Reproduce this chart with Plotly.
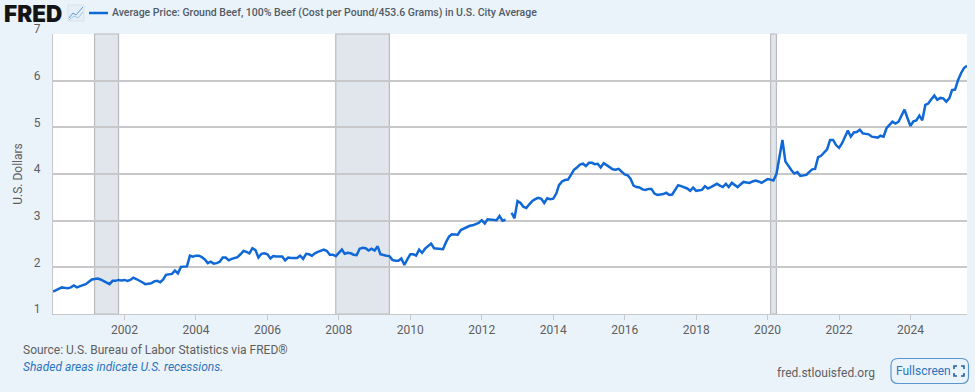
import plotly.graph_objects as go
import pandas as pd

W, H = 975, 392
L, R, T, B = 53, 8, 34, 78

y2000 = [1.48, 1.51, 1.53, 1.57, 1.56, 1.55, 1.57, 1.61, 1.57, 1.60, 1.62, 1.64]
y2001 = [1.70, 1.74, 1.75, 1.76, 1.74, 1.71, 1.68, 1.64, 1.71, 1.71, 1.73, 1.72]
y2002 = [1.73, 1.71, 1.73, 1.78, 1.75, 1.72, 1.68, 1.64, 1.65, 1.66, 1.70, 1.71]
y2003 = [1.68, 1.74, 1.84, 1.85, 1.86, 1.93, 1.87, 2.01, 2.02, 2.02, 2.25, 2.23]
y2004 = [2.25, 2.25, 2.22, 2.17, 2.09, 2.12, 2.08, 2.09, 2.12, 2.21, 2.21, 2.15]
y2005 = [2.18, 2.21, 2.22, 2.28, 2.35, 2.33, 2.30, 2.41, 2.37, 2.21, 2.29, 2.30]
y2006 = [2.28, 2.19, 2.24, 2.23, 2.23, 2.23, 2.15, 2.21, 2.20, 2.20, 2.20, 2.25]
y2007 = [2.18, 2.29, 2.28, 2.25, 2.30, 2.33, 2.36, 2.38, 2.35, 2.27, 2.27, 2.24]
y2008 = [2.31, 2.38, 2.29, 2.31, 2.30, 2.27, 2.26, 2.40, 2.42, 2.41, 2.36, 2.40]
y2009 = [2.36, 2.45, 2.28, 2.26, 2.25, 2.24, 2.16, 2.14, 2.14, 2.19, 2.05, 2.17]
y2010 = [2.28, 2.28, 2.25, 2.38, 2.31, 2.40, 2.46, 2.51, 2.41, 2.40, 2.40, 2.39]
y2011 = [2.54, 2.66, 2.71, 2.71, 2.70, 2.80, 2.83, 2.86, 2.89, 2.90, 2.92, 2.95]
y2012 = [3.01, 2.94, 3.03, 3.02, 3.01, 3.01, 3.10, 3.00, 3.02, None, 3.17, 3.05]
y2013 = [3.42, 3.38, 3.30, 3.27, 3.35, 3.42, 3.46, 3.49, 3.47, 3.38, 3.48, 3.46]
y2014 = [3.47, 3.58, 3.76, 3.84, 3.87, 3.88, 3.98, 4.09, 4.14, 4.20, 4.22, 4.17]
y2015 = [4.24, 4.24, 4.21, 4.22, 4.14, 4.23, 4.19, 4.15, 4.10, 4.09, 4.11, 4.05]
y2016 = [3.99, 3.97, 3.90, 3.75, 3.72, 3.71, 3.67, 3.66, 3.68, 3.68, 3.58, 3.55]
y2017 = [3.56, 3.57, 3.60, 3.55, 3.56, 3.66, 3.76, 3.74, 3.72, 3.69, 3.64, 3.71]
y2018 = [3.64, 3.65, 3.66, 3.74, 3.69, 3.72, 3.75, 3.79, 3.75, 3.72, 3.79, 3.72]
y2019 = [3.81, 3.76, 3.72, 3.78, 3.83, 3.82, 3.81, 3.84, 3.86, 3.84, 3.81, 3.85]
y2020 = [3.89, 3.88, 3.86, 4.00, 4.37, 4.73, 4.27, 4.16, 4.08, 4.01, 4.04, 3.96]
y2021 = [3.97, 3.98, 4.04, 4.10, 4.11, 4.36, 4.39, 4.46, 4.53, 4.73, 4.73, 4.62]
y2022 = [4.56, 4.66, 4.78, 4.93, 4.80, 4.89, 4.90, 4.95, 4.87, 4.86, 4.85, 4.80]
y2023 = [4.79, 4.78, 4.82, 4.80, 4.98, 5.06, 5.12, 5.08, 5.12, 5.25, 5.38, 5.20]
y2024 = [5.03, 5.13, 5.15, 5.25, 5.15, 5.48, 5.51, 5.60, 5.68, 5.59, 5.63, 5.62]
y2025 = [5.55, 5.62, 5.80, 5.81, 6.01, 6.16, 6.27, 6.32]

values = (y2000 + y2001 + y2002 + y2003 + y2004 + y2005 + y2006 + y2007 + y2008 + y2009
          + y2010 + y2011 + y2012 + y2013 + y2014 + y2015 + y2016 + y2017 + y2018 + y2019
          + y2020 + y2021 + y2022 + y2023 + y2024 + y2025)
dates = pd.date_range("2000-01-01", periods=len(values), freq="MS")

recession_starts = ["2001-03-01", "2007-12-01", "2020-02-01"]
recession_ends = ["2001-11-01", "2009-06-01", "2020-04-01"]
year_ticks = ["2002-01-01", "2004-01-01", "2006-01-01", "2008-01-01", "2010-01-01", "2012-01-01",
              "2014-01-01", "2016-01-01", "2018-01-01", "2020-01-01", "2022-01-01", "2024-01-01"]
year_labels = ["2002", "2004", "2006", "2008", "2010", "2012", "2014", "2016", "2018", "2020", "2022", "2024"]
y_ticks = [1, 2, 3, 4, 5, 6, 7]

TITLE = "Average Price: Ground Beef, 100% Beef (Cost per Pound/453.6 Grams) in U.S. City Average"
BLUE = "#1068d6"
GREY_TEXT = "#5e5e5e"
GRID = "#c8c8ca"
PAGE = "#ebf3fa"
FONT = "Roboto"

def px(x):
    return (x - L) / (W - L - R)

def py(y):
    return (H - B - y) / (H - T - B)

def path(cmds):
    out = []
    for c in cmds:
        if isinstance(c, str):
            out.append(c)
        else:
            out.append(f"{px(c[0]):.5f},{py(c[1]):.5f}")
    return " ".join(out)

def pshape(cmds, color, width=1.0, fill=None):
    return dict(type="path", xref="paper", yref="paper", path=path(cmds),
                line=dict(color=color, width=width), fillcolor=fill or "rgba(0,0,0,0)", layer="above")

def note(x, y, text, size, color=GREY_TEXT, xanchor="left", font=FONT, **kw):
    return dict(xref="paper", yref="paper", x=px(x), y=py(y), text=text, showarrow=False,
                xanchor=xanchor, yanchor="middle", font=dict(family=font, size=size, color=color, **kw),
                borderpad=0, borderwidth=0)

fig = go.Figure(go.Scatter(x=dates, y=values, mode="lines", connectgaps=False,
                           line=dict(color=BLUE, width=2.5, shape="linear"), hoverinfo="skip"))

shapes = []
for s, e in zip(recession_starts, recession_ends):
    shapes.append(dict(type="rect", xref="x", yref="paper", x0=s, x1=e, y0=0, y1=1, layer="below",
                       fillcolor="#e1e6ec", line=dict(color="#b9bbbf", width=1.2)))

# logo icon
shapes.append(pshape(["M", (68, 5), "L", (84, 5), "L", (84, 21), "L", (68, 21), "Z"], "#d5dde6", 0.8, "#e6eff8"))
shapes.append(pshape(["M", (69, 18), "L", (73, 13), "L", (76, 15), "L", (83, 7)], "#5b9bd8", 1))
shapes.append(pshape(["M", (69, 20), "L", (74, 16), "L", (78, 18), "L", (83, 12)], "#9cc3e6", 1))
# legend key
shapes.append(pshape(["M", (89, 13), "L", (108, 13)], BLUE, 2.5))
# fullscreen button
rx = 7
x0, x1, y0, y1 = 891, 968.5, 358.5, 383.5
shapes.append(pshape(["M", (x0 + rx, y0), "L", (x1 - rx, y0), "Q", (x1, y0), (x1, y0 + rx), "L", (x1, y1 - rx),
                      "Q", (x1, y1), (x1 - rx, y1), "L", (x0 + rx, y1), "Q", (x0, y1), (x0, y1 - rx),
                      "L", (x0, y0 + rx), "Q", (x0, y0), (x0 + rx, y0), "Z"], "#5c96cc", 1.2))
for cx, cy, dx, dy in [(954, 366, 1, 1), (964, 366, -1, 1), (954, 376, 1, -1), (964, 376, -1, -1)]:
    shapes.append(pshape(["M", (cx, cy + 3 * dy), "L", (cx, cy), "L", (cx + 3 * dx, cy)], "#1f5fa8", 1.6))

annotations = [
    note(4, 13, "FRED", 22.5, "#141414", font="Inter", weight=900),
    note(112, 12.5, TITLE, 10.5, "#515b65", weight=500),
    note(23, 350, "Source: U.S. Bureau of Labor Statistics via FRED®", 12),
    note(23, 367, "Shaded areas indicate U.S. recessions.", 12, "#2b73bd", style="italic"),
    note(777, 373, "fred.stlouisfed.org", 12),
    note(896, 370.5, "Fullscreen", 12, "#2b73bd"),
]

fig.update_layout(
    width=W, height=H, autosize=False,
    margin=dict(l=L, r=R, t=T, b=B, pad=0),
    paper_bgcolor=PAGE, plot_bgcolor="#ffffff",
    showlegend=False,
    font=dict(family=FONT, color=GREY_TEXT, size=12),
    shapes=shapes, annotations=annotations,
    xaxis=dict(range=["2000-01-01", "2025-08-01"], type="date", tickvals=year_ticks, ticktext=year_labels,
               showgrid=False, zeroline=False, showline=True, linecolor=GRID, linewidth=1,
               ticks="outside", ticklen=5, tickcolor=GRID, tickwidth=1,
               tickfont=dict(family=FONT, size=12, color=GREY_TEXT)),
    yaxis=dict(range=[1, 7], tickvals=y_ticks, showgrid=True, gridcolor=GRID, gridwidth=1.5, zeroline=False,
               showline=True, linecolor=GRID, linewidth=1, ticks="", ticklabelstandoff=9, ticklabelshift=-5,
               tickfont=dict(family=FONT, size=12, color=GREY_TEXT),
               title=dict(text="U.S. Dollars", font=dict(family=FONT, size=12, color=GREY_TEXT), standoff=8)),
)

fig.write_html("out.html", config={"displayModeBar": False},
               post_script="document.body.style.margin='0';document.body.style.background='#ebf3fa';")
